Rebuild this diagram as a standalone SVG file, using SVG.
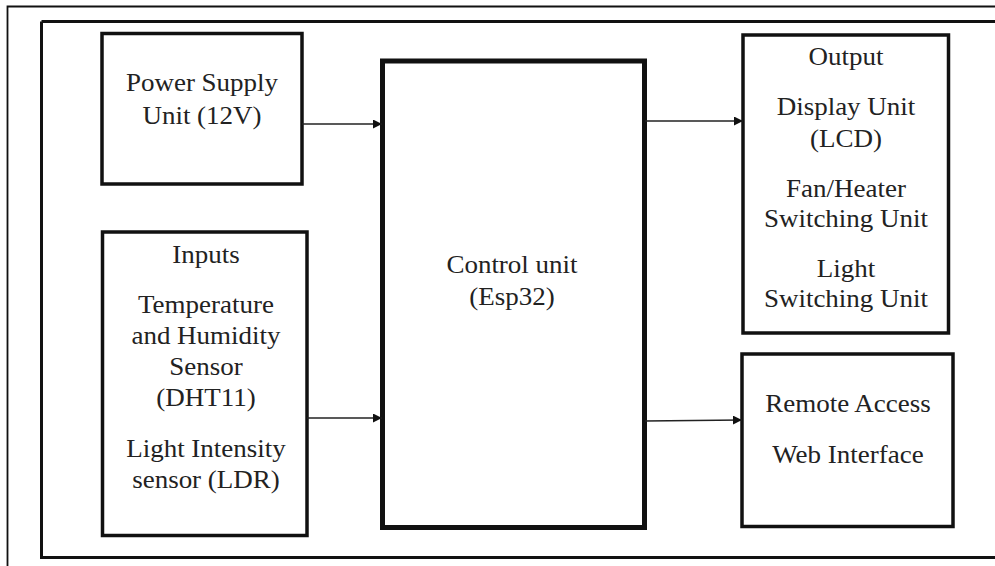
<svg xmlns="http://www.w3.org/2000/svg" width="995" height="566" viewBox="0 0 995 566">
<defs>
<style>
.frame{fill:none;stroke:#111;}
.box{fill:#fff;stroke:#111;stroke-width:3.5;}
.cbox{fill:#fff;stroke:#111;stroke-width:5;}
.conn{fill:none;stroke:#222;stroke-width:1.6;}
.lbl{font-family:'Liberation Serif',serif;font-size:25px;fill:#222;text-anchor:middle;}
</style>
<marker id="arr" viewBox="0 0 10 10" refX="10" refY="5" markerWidth="9" markerHeight="9" markerUnits="userSpaceOnUse" orient="auto">
<path d="M0,0 L10,5 L0,10 z" fill="#111"/>
</marker>
</defs>
<rect x="0" y="0" width="995" height="566" fill="#fff"/>
<path class="frame" d="M7.5,566 V6.5 H995" stroke-width="1.8"/>
<path class="frame" d="M41.5,21.5 H995 M41.5,21.5 V557.5 H995" stroke-width="3"/>
<g id="power">
<rect class="box" x="102" y="33.5" width="200" height="150.5"/>
<g class="lbl" transform="matrix(1.08 0 0 1 -16.16 0)">
<text x="202" y="91">Power Supply</text>
<text x="202" y="124">Unit (12V)</text>
</g>
</g>
<g id="inputs">
<rect class="box" x="102.5" y="232" width="204.5" height="303.5"/>
<g class="lbl" transform="matrix(1.08 0 0 1 -16.48 0)">
<text x="206" y="263">Inputs</text>
<text x="206" y="313">Temperature</text>
<text x="206" y="344">and Humidity</text>
<text x="206" y="375">Sensor</text>
<text x="206" y="406">(DHT11)</text>
<text x="206" y="457">Light Intensity</text>
<text x="206" y="488">sensor (LDR)</text>
</g>
</g>
<g id="control">
<rect class="cbox" x="382.5" y="61" width="262" height="466.5"/>
<g class="lbl" transform="matrix(1.08 0 0 1 -40.96 0)">
<text x="512" y="273">Control unit</text>
<text x="512" y="305">(Esp32)</text>
</g>
</g>
<g id="output">
<rect class="box" x="743" y="35" width="205.5" height="298"/>
<g class="lbl" transform="matrix(1.08 0 0 1 -67.68 0)">
<text x="846" y="65">Output</text>
<text x="846" y="115">Display Unit</text>
<text x="846" y="147">(LCD)</text>
<text x="846" y="197">Fan/Heater</text>
<text x="846" y="227">Switching Unit</text>
<text x="846" y="277">Light</text>
<text x="846" y="307">Switching Unit</text>
</g>
</g>
<g id="remote">
<rect class="box" x="742" y="354" width="211" height="172.5"/>
<g class="lbl" transform="matrix(1.08 0 0 1 -67.84 0)">
<text x="848" y="412">Remote Access</text>
<text x="848" y="463">Web Interface</text>
</g>
</g>
<g id="connectors">
<line class="conn" x1="302" y1="124" x2="382" y2="124" marker-end="url(#arr)"/>
<line class="conn" x1="307" y1="418" x2="382" y2="418" marker-end="url(#arr)"/>
<line class="conn" x1="645" y1="121" x2="743" y2="121" marker-end="url(#arr)"/>
<line class="conn" x1="645" y1="421" x2="742" y2="420" marker-end="url(#arr)"/>
</g>
</svg>
